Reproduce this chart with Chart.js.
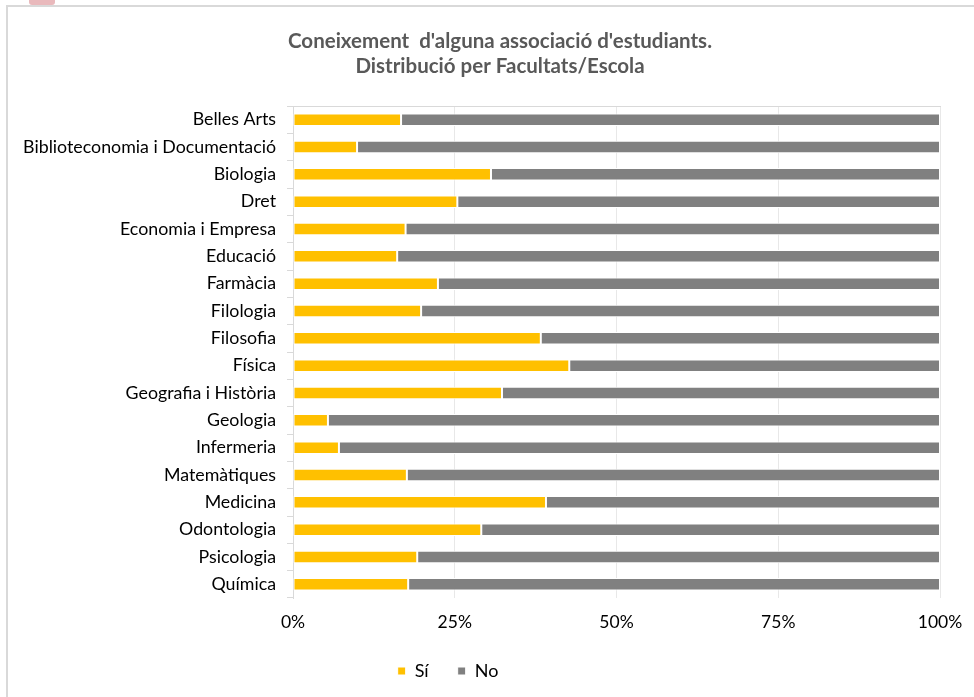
<!DOCTYPE html>
<html>
<head>
<meta charset="utf-8">
<script src="https://cdn.jsdelivr.net/npm/chart.js@4/dist/chart.umd.min.js"></script>
<style>
  html, body { margin: 0; padding: 0; background: #fff; }
  #wrap { position: relative; width: 974px; height: 697px; overflow: hidden; }
  #frame { position: absolute; left: 6px; top: 5px; width: 1200px; height: 1200px;
           border-left: 2px solid #d9d9d9; border-top: 2px solid #d9d9d9; }
  #tab { position: absolute; left: 29px; top: -6px; width: 26px; height: 11px;
         background: #e9b9bc; border-radius: 3px; }
  canvas { position: absolute; left: 0; top: 0; }
</style>
</head>
<body>
<div id="wrap">
  <div id="frame"></div>
  <div id="tab"></div>
  <canvas id="c" width="974" height="697"></canvas>
</div>
<script>
const titleLines = ["Coneixement  d'alguna associació d'estudiants.", "Distribució per Facultats/Escola"];
const categories = [
  "Belles Arts", "Biblioteconomia i Documentació", "Biologia", "Dret",
  "Economia i Empresa", "Educació", "Farmàcia", "Filologia", "Filosofia",
  "Física", "Geografia i Història", "Geologia", "Infermeria", "Matemàtiques",
  "Medicina", "Odontologia", "Psicologia", "Química"
];
const seriesNames = ["Sí", "No"];
const siValues = [16.7, 9.9, 30.6, 25.4, 17.4, 16.1, 22.4, 19.8, 38.3, 42.7, 32.3, 5.4, 7.1, 17.6, 39.1, 29.1, 19.2, 17.8];
const noValues = [83.3, 90.1, 69.4, 74.6, 82.6, 83.9, 77.6, 80.2, 61.7, 57.3, 67.7, 94.6, 92.9, 82.4, 60.9, 70.9, 80.8, 82.2];
const xTickLabels = ["0%", "25%", "50%", "75%", "100%"];

const FONT = "Lato";

const shiftPlugin = {
  id: 'shiftBlocks',
  afterLayout(chart) {
    const t = chart.titleBlock;
    if (t) { t.left += 30; t.right += 30; }
    const l = chart.legend;
    if (l) { l.left -= 22; l.right -= 22; }
  }
};

new Chart(document.getElementById('c'), {
  type: 'bar',
  data: {
    labels: categories,
    datasets: [
      { label: seriesNames[0], data: siValues, backgroundColor: '#FFC000', borderColor: '#ffffff',
        borderWidth: 1, borderSkipped: false, barPercentage: 0.46, categoryPercentage: 1 },
      { label: seriesNames[1], data: noValues, backgroundColor: '#808080', borderColor: '#ffffff',
        borderWidth: 1, borderSkipped: false, barPercentage: 0.46, categoryPercentage: 1 }
    ]
  },
  options: {
    indexAxis: 'y',
    responsive: false,
    animation: false,
    layout: { padding: { left: 0, right: 34, top: 0, bottom: 7 } },
    scales: {
      x: {
        stacked: true, min: 0, max: 100,
        border: { display: false },
        grid: { color: '#e8e8e8', lineWidth: 1, drawTicks: true, tickLength: 13.5, tickColor: 'rgba(0,0,0,0)' },
        ticks: {
          stepSize: 25, padding: 0, color: '#000',
          font: { family: FONT, size: 17.5 },
          callback: (v, i) => xTickLabels[i]
        },
        afterFit: (s) => { s.height = 35; }
      },
      x2: {
        type: 'linear', position: 'top', min: 0, max: 100,
        grid: { display: false },
        ticks: { display: false },
        border: { display: true, color: '#d9d9d9', width: 1 },
        afterFit: (s) => { s.height = 0; }
      },
      y: {
        stacked: true,
        border: { color: '#d9d9d9', width: 1 },
        grid: { offset: true, drawOnChartArea: false, tickLength: 6, color: '#d9d9d9' },
        ticks: { autoSkip: false, padding: 11, color: '#000', font: { family: FONT, size: 17.8 } },
        afterFit: (s) => { s.width = 293; }
      }
    },
    plugins: {
      title: {
        display: true,
        text: titleLines,
        color: '#595959',
        font: { family: FONT, size: 20.5, weight: 'bold', lineHeight: 25 / 20.5 },
        padding: { top: 28.5, bottom: 27.5 }
      },
      legend: {
        display: true,
        position: 'bottom',
        labels: {
          color: '#000', boxWidth: 8, boxHeight: 8, padding: 29,
          font: { family: FONT, size: 18 }
        }
      },
      tooltip: { enabled: false }
    }
  },
  plugins: [shiftPlugin]
});
</script>
</body>
</html>
